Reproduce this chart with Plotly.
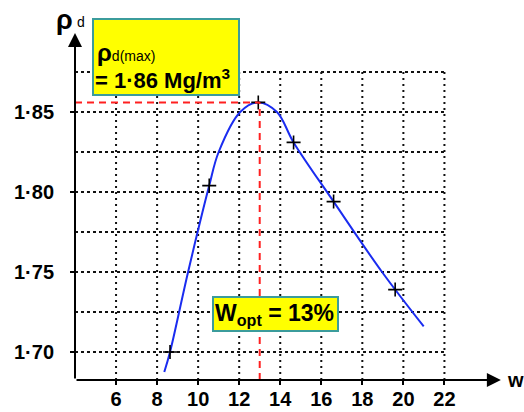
import plotly.graph_objects as go

# ---- data ----
w_curve = [8.35, 8.63, 9.51, 10.54, 11.0, 12.05, 12.93, 13.84, 14.65, 16.6, 18.96, 20.99]
rho_curve = [1.6875, 1.700, 1.750, 1.804, 1.825, 1.850, 1.856, 1.850, 1.831, 1.794, 1.750, 1.716]

w_points = [8.63, 10.54, 12.93, 14.65, 16.6, 19.6]
rho_points = [1.700, 1.804, 1.856, 1.831, 1.794, 1.739]

x_ticks = [6, 8, 10, 12, 14, 16, 18, 20, 22]
x_ticktext = ["6", "8", "10", "12", "14", "16", "18", "20", "22"]
y_ticks = [1.70, 1.75, 1.80, 1.85]
y_ticktext = ["1·70", "1·75", "1·80", "1·85"]
y_grid = [1.70, 1.725, 1.75, 1.775, 1.80, 1.825, 1.85, 1.875]

w_opt = 13
rho_max = 1.856

# ---- layout constants ----
X0, X1 = 4, 25
Y0, Y1 = 1.6825, 1.9025
ML, MR, MT, MB = 75, 18, 28, 32
W, H = 524, 412
PW = W - ML - MR
PH = H - MT - MB
FONT = "Liberation Sans, Arial, sans-serif"
YELLOW = "#ffff00"
TEAL = "#3b9c9c"


def px_x(px):
    return (px - ML) / PW


def px_y(py):
    return (H - MB - py) / PH


fig = go.Figure()

fig.add_trace(go.Scatter(
    x=w_curve, y=rho_curve, mode="lines",
    line=dict(color="#1a2cf0", width=2, shape="spline", smoothing=1.0),
    hoverinfo="skip", showlegend=False))

fig.add_trace(go.Scatter(
    x=w_points, y=rho_points, mode="markers",
    marker=dict(symbol="cross-thin", size=10, line=dict(color="black", width=1.6)),
    showlegend=False))

shapes = []
# dotted grid
for gx in x_ticks:
    shapes.append(dict(type="line", xref="x", yref="y", x0=gx, x1=gx, y0=Y0, y1=y_grid[-1],
                       line=dict(color="#111", width=2, dash="2px,4px"), layer="below"))
for gy in y_grid:
    shapes.append(dict(type="line", xref="x", yref="y", x0=X0, x1=x_ticks[-1], y0=gy, y1=gy,
                       line=dict(color="#111", width=2, dash="3px,3px"), layer="below"))
# red dashed optimum lines
shapes.append(dict(type="line", xref="x", yref="y", x0=X0, x1=w_opt, y0=rho_max, y1=rho_max,
                   line=dict(color="#ff2020", width=2, dash="7px,5px")))
shapes.append(dict(type="line", xref="x", yref="y", x0=w_opt, x1=w_opt, y0=Y0, y1=rho_max,
                   line=dict(color="#ff2020", width=2, dash="7px,5px")))
# yellow label boxes
shapes.append(dict(type="rect", xref="paper", yref="paper",
                   x0=px_x(93), x1=px_x(239), y0=px_y(95), y1=px_y(19),
                   fillcolor=YELLOW, line=dict(color=TEAL, width=2), layer="above"))
shapes.append(dict(type="rect", xref="paper", yref="paper",
                   x0=px_x(213), x1=px_x(338), y0=px_y(331), y1=px_y(297),
                   fillcolor=YELLOW, line=dict(color=TEAL, width=2), layer="above"))


def txt(px, py, text, size, bold=True, xanchor="left"):
    return dict(x=px_x(px), y=px_y(py), xref="paper", yref="paper",
                xanchor=xanchor, yanchor="middle", text=text, showarrow=False,
                font=dict(family=FONT, size=size, color="black",
                          weight="bold" if bold else "normal"))


annotations = [
    # axis arrows
    dict(x=24.75, y=Y0, ax=X0, ay=Y0, xref="x", yref="y", axref="x", ayref="y",
         text="", showarrow=True, arrowhead=2, arrowsize=1.4, arrowwidth=2, arrowcolor="black"),
    dict(x=X0, y=1.8994, ax=X0, ay=Y0, xref="x", yref="y", axref="x", ayref="y",
         text="", showarrow=True, arrowhead=2, arrowsize=1.4, arrowwidth=2, arrowcolor="black"),
    # axis titles
    txt(64, 20, "ρ", 27, True, "center"),
    txt(81, 22, "d", 14, False, "center"),
    txt(505, 380, "w", 20, True, "left"),
    # box 1 text
    txt(95, 52, "ρ<span style='font-size:14px;font-weight:normal'>d(max)</span>", 24, True, "left"),
    txt(93, 79, "= 1·86 Mg/m<sup>3</sup>", 22, True, "left"),
    # box 2 text
    txt(213, 314, "W<sub>opt</sub> = 13%", 23, True, "left"),
]

fig.update_layout(
    width=W, height=H,
    margin=dict(l=ML, r=MR, t=MT, b=MB, autoexpand=False),
    paper_bgcolor="white", plot_bgcolor="white",
    shapes=shapes, annotations=annotations,
    xaxis=dict(range=[X0, X1], showgrid=False, zeroline=False, showline=False,
               automargin=False,
               tickvals=x_ticks, ticktext=x_ticktext, ticks="outside", ticklen=4,
               tickwidth=2, tickcolor="black", ticklabelstandoff=-3,
               tickfont=dict(family=FONT, size=20, color="black", weight="bold")),
    yaxis=dict(range=[Y0, Y1], showgrid=False, zeroline=False, showline=False,
               automargin=False,
               tickvals=y_ticks, ticktext=y_ticktext, ticks="outside", ticklen=4,
               tickwidth=2, tickcolor="black", ticklabelstandoff=12,
               tickfont=dict(family=FONT, size=20, color="black", weight="bold")),
)

fig.write_html("out.html", config={"displayModeBar": False},
               post_script="document.body.style.margin='0';")
